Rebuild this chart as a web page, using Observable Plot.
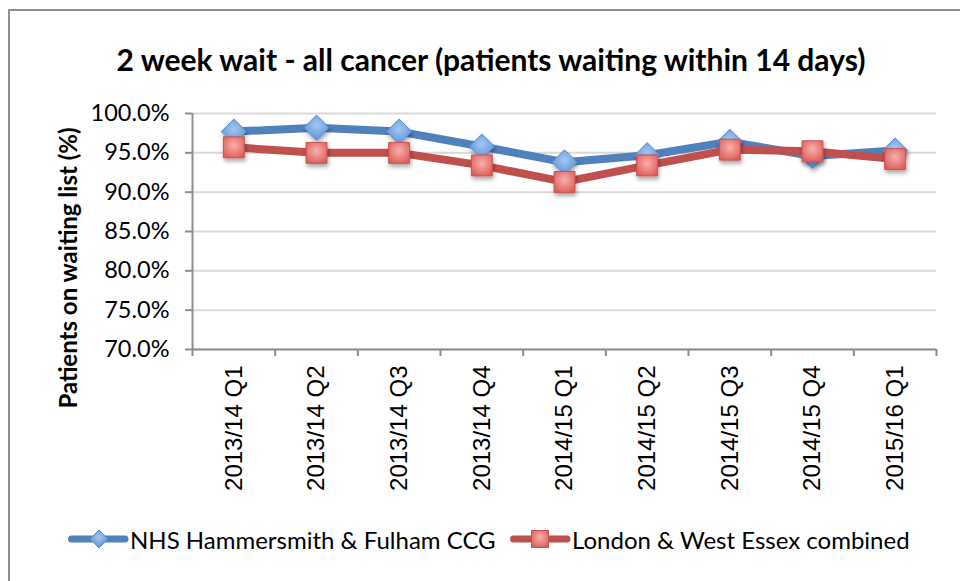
<!DOCTYPE html>
<html>
<head>
<meta charset="utf-8">
<script src="https://cdn.jsdelivr.net/npm/d3@7"></script>
<script src="https://cdn.jsdelivr.net/npm/@observablehq/plot@0.6"></script>
<style>
  html, body { margin: 0; padding: 0; background: #fff; }
  #frame { position: relative; width: 960px; height: 581px; overflow: hidden; }
  #border { position: absolute; left: 8px; top: 9px; width: 960px; height: 600px;
            border-left: 2px solid #8e8e8e; border-top: 2px solid #8e8e8e; }
  #title { position: absolute; left: 22px; width: 938px; top: 44px; line-height: 30px; text-align: center;
           font-family: Lato, sans-serif; font-weight: bold; font-size: 30px; color: #000; white-space: nowrap; }
  #ylabel { position: absolute; left: 68px; top: 268px; transform: translate(-50%, -50%) rotate(-90deg);
            font-family: Lato, sans-serif; font-weight: bold; font-size: 24px; line-height: 24px; color: #000; white-space: nowrap; }
  #chart { position: absolute; left: 0; top: 0; }
  .litem { position: absolute; top: 524px; display: flex; align-items: center;
           font-family: Lato, sans-serif; font-size: 24px; color: #000; white-space: nowrap; }
  .litem svg { display: block; }
  g[aria-label="dot"] { filter: url(#shadow); }
</style>
</head>
<body>
<div id="frame">
  <div id="border"></div>
  <div id="title"></div>
  <div id="chart"></div>
  <div id="ylabel"></div>
</div>
<script>
const titleText = "2 week wait - all cancer (patients waiting within 14 days)";
const yLabel = "Patients on waiting list (%)";
const quarters = ["2013/14 Q1","2013/14 Q2","2013/14 Q3","2013/14 Q4","2014/15 Q1","2014/15 Q2","2014/15 Q3","2014/15 Q4","2015/16 Q1"];
const seriesNames = ["NHS Hammersmith & Fulham CCG", "London & West Essex combined"];
const hammersmith = [97.7, 98.2, 97.7, 95.8, 93.8, 94.7, 96.4, 94.6, 95.3];
const london = [95.7, 95.0, 95.0, 93.4, 91.3, 93.4, 95.4, 95.2, 94.2];
const yTicks = [70, 75, 80, 85, 90, 95, 100];
const lineColors = ["#4f81bd", "#c0504d"];

document.getElementById("title").textContent = titleText;
document.getElementById("ylabel").textContent = yLabel;

const rows = [];
[hammersmith, london].forEach((vals, s) => {
  vals.forEach((v, i) => rows.push({series: seriesNames[s], pos: i + 0.5, value: v}));
});
const s0 = rows.filter(d => d.series === seriesNames[0]);
const s1 = rows.filter(d => d.series === seriesNames[1]);

const chart = Plot.plot({
  width: 960,
  height: 500,
  marginTop: 113,
  marginBottom: 151,
  marginLeft: 192,
  marginRight: 24,
  style: {fontFamily: "Lato, sans-serif", color: "#000", background: "transparent", overflow: "visible"},
  x: {domain: [0, quarters.length]},
  y: {domain: [70, 100]},
  color: {domain: seriesNames, range: lineColors},
  marks: [
    Plot.gridY(yTicks, {stroke: "#d9d9d9", strokeOpacity: 1, strokeWidth: 2}),
    Plot.ruleX([0], {stroke: "#8e8e8e", strokeWidth: 2}),
    Plot.ruleY([70], {stroke: "#8e8e8e", strokeWidth: 2}),
    Plot.axisY(yTicks, {
      tickFormat: d => d.toFixed(1) + "%",
      tickSize: 7, tickPadding: 16, stroke: "#8e8e8e", strokeWidth: 2,
      fontSize: 23.5, fill: "#000", label: null
    }),
    Plot.axisX(d3.range(0, quarters.length + 1), {
      tickFormat: () => "", tickSize: 7, stroke: "#8e8e8e", strokeWidth: 2, label: null
    }),
    Plot.axisX(quarters.map((q, i) => i + 0.5), {
      tickFormat: d => quarters[Math.round(d - 0.5)], tickSize: 0, tickPadding: 16,
      tickRotate: -90, fontSize: 24, fontFamily: "'Liberation Sans', Arial, sans-serif",
      fill: "#000", label: null
    }),
    Plot.line(s0, {x: "pos", y: "value", stroke: "series", strokeWidth: 8, strokeLinejoin: "round", strokeLinecap: "round"}),
    Plot.dot(s0, {x: "pos", y: "value", symbol: "diamond2", r: 11.3, fill: "url(#gBlue)", stroke: "#5a8ccc", strokeWidth: 1}),
    Plot.line(s1, {x: "pos", y: "value", stroke: "series", strokeWidth: 8, strokeLinejoin: "round", strokeLinecap: "round"}),
    Plot.dot(s1, {x: "pos", y: "value", symbol: "square", r: 11.8, fill: "url(#gRed)", stroke: "#c9524e", strokeWidth: 1})
  ]
});

const defsMarkup = `
  <radialGradient id="gBlue" cx="50%" cy="40%" r="60%">
    <stop offset="0%" stop-color="#a3c8f2"/>
    <stop offset="100%" stop-color="#5b93d6"/>
  </radialGradient>
  <radialGradient id="gRed" cx="50%" cy="40%" r="65%">
    <stop offset="0%" stop-color="#f8b0ac"/>
    <stop offset="100%" stop-color="#dd5e59"/>
  </radialGradient>
  <filter id="shadow" x="-50%" y="-50%" width="200%" height="200%">
    <feDropShadow dx="1" dy="3" stdDeviation="2" flood-color="#000" flood-opacity="0.35"/>
  </filter>`;
const defs = document.createElementNS("http://www.w3.org/2000/svg", "defs");
defs.innerHTML = defsMarkup;
chart.insertBefore(defs, chart.firstChild);
document.getElementById("chart").appendChild(chart);

// Legend
const frame = document.getElementById("frame");
const legendSymbols = ["diamond", "square"];
const legendLeft = [62, 504];
const svgNS = "http://www.w3.org/2000/svg";
seriesNames.forEach((name, s) => {
  const item = document.createElement("div");
  item.className = "litem";
  item.style.left = legendLeft[s] + "px";
  const sw = document.createElementNS(svgNS, "svg");
  sw.setAttribute("width", 68); sw.setAttribute("height", 30);
  const ln = document.createElementNS(svgNS, "line");
  ln.setAttribute("x1", 9.5); ln.setAttribute("x2", 63); ln.setAttribute("y1", 15); ln.setAttribute("y2", 15);
  ln.setAttribute("stroke", lineColors[s]); ln.setAttribute("stroke-width", 7); ln.setAttribute("stroke-linecap", "round");
  sw.appendChild(ln);
  if (legendSymbols[s] === "diamond") {
    const p = document.createElementNS(svgNS, "path");
    p.setAttribute("d", "M37,6 L46,15 L37,24 L28,15 Z");
    p.setAttribute("fill", "url(#gBlue)"); p.setAttribute("stroke", "#5a8ccc");
    sw.appendChild(p);
  } else {
    const r = document.createElementNS(svgNS, "rect");
    r.setAttribute("x", 27.5); r.setAttribute("y", 6.5); r.setAttribute("width", 17); r.setAttribute("height", 17);
    r.setAttribute("fill", "url(#gRed)"); r.setAttribute("stroke", "#c9524e");
    sw.appendChild(r);
  }
  item.appendChild(sw);
  const t = document.createElement("span");
  t.textContent = name;
  item.appendChild(t);
  frame.appendChild(item);
});
</script>
</body>
</html>
